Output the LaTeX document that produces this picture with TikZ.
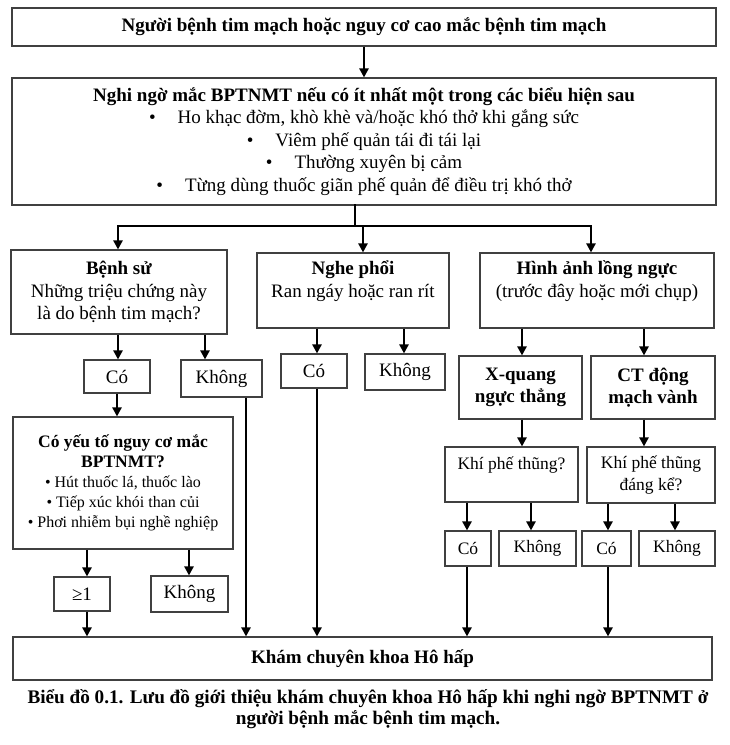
\documentclass[tikz,border=0pt]{standalone}
\usepackage{fontspec}
\setmainfont{Liberation Serif}
\usetikzlibrary{arrows.meta}
\newcommand\szA{\fontsize{19}{22.5}\selectfont}
\newcommand\szB{\fontsize{17.5}{22}\selectfont}
\newcommand\szC{\fontsize{16}{20}\selectfont}
\newcommand\szT{\fontsize{17.5}{20}\selectfont\bfseries}
\begin{document}
\begin{tikzpicture}[x=1pt,y=-1pt,
  box/.style={draw=black!75, line width=1.1pt, inner sep=0pt, align=center, font=\szA},
  boxs/.style={box, font=\szB},
  conn/.style={draw=black, line width=2.5pt, -{Triangle[length=9pt,width=9pt]}},
  busline/.style={draw=black, line width=2.5pt, line cap=rect},
  captxt/.style={inner sep=0pt, align=center, font=\fontsize{19.2}{21}\selectfont\bfseries}]
\useasboundingbox (0,0) rectangle (730,745);

% boxes
\node[box, minimum width=704pt, minimum height=38pt] (top) at (364,27)
  {\textbf{Người bệnh tim mạch hoặc nguy cơ cao mắc bệnh tim mạch}};
\node[box, minimum width=704pt, minimum height=127pt] (sus) at (364,141.5)
  {\textbf{Nghi ngờ mắc BPTNMT nếu có ít nhất một trong các biểu hiện sau}\\
   \textbullet\hspace{22pt}Ho khạc đờm, khò khè và/hoặc khó thở khi gắng sức\\
   \textbullet\hspace{22pt}Viêm phế quản tái đi tái lại\\
   \textbullet\hspace{22pt}Thường xuyên bị cảm\\
   \textbullet\hspace{22pt}Từng dùng thuốc giãn phế quản để điều trị khó thở};
\node[box, minimum width=216pt, minimum height=84pt] (bs) at (119,292)
  {\textbf{Bệnh sử}\\Những triệu chứng này\\là do bệnh tim mạch?};
\node[box, minimum width=192pt, minimum height=75pt] (np) at (353,290.5)
  {\textbf{Nghe phổi}\\Ran ngáy hoặc ran rít\\\mbox{}};
\node[box, minimum width=234pt, minimum height=75pt] (ha) at (597,290.5)
  {\textbf{Hình ảnh lồng ngực}\\(trước đây hoặc mới chụp)\\\mbox{}};
\node[box, minimum width=66pt, minimum height=33pt] (co1) at (117,376.5) {Có};
\node[box, minimum width=81pt, minimum height=37pt] (kh1) at (221.5,378.5) {Không};
\node[box, minimum width=66pt, minimum height=34pt] (co2) at (314,371) {Có};
\node[box, minimum width=80pt, minimum height=36pt] (kh2) at (405,372) {Không};
\node[box, minimum width=123pt, minimum height=63pt] (xq) at (520.5,387.5)
  {\textbf{X-quang}\\\textbf{ngực thẳng}};
\node[box, minimum width=124pt, minimum height=63pt] (ct) at (653,387.5)
  {\textbf{CT động}\\\textbf{mạch vành}};
\node[box, font=\szC, minimum width=220pt, minimum height=132pt] (rf) at (123,483)
  {\szT Có yếu tố nguy cơ mắc\\
   \szT BPTNMT?\\
   \textbullet{} Hút thuốc lá, thuốc lào\\
   \textbullet{} Tiếp xúc khói than củi\\
   \textbullet{} Phơi nhiễm bụi nghề nghiệp};
\node[box, minimum width=56pt, minimum height=34pt] (ge) at (82,594) {≥1};
\node[box, minimum width=77pt, minimum height=36pt] (kh3) at (189.5,594) {Không};
\node[boxs, minimum width=133pt, minimum height=55pt] (kpt) at (511.5,474.5)
  {Khí phế thũng?\\\mbox{}};
\node[boxs, minimum width=128pt, minimum height=56pt] (kpt2) at (651,475)
  {Khí phế thũng\\đáng kể?};
\node[boxs, minimum width=46pt, minimum height=35pt] (co4) at (468,548.5) {Có};
\node[boxs, minimum width=77pt, minimum height=35pt] (kh4) at (537.5,548.5) {Không};
\node[boxs, minimum width=49pt, minimum height=35pt] (co5) at (606.5,548.5) {Có};
\node[boxs, minimum width=76pt, minimum height=35pt] (kh5) at (677,548.5) {Không};
\node[box, minimum width=699pt, minimum height=43pt] (kham) at (362.5,658.5)
  {\textbf{Khám chuyên khoa Hô hấp}};
\node[captxt] (cap) at (368,709)
  {Biểu đồ 0.1. Lưu đồ giới thiệu khám chuyên khoa Hô hấp khi nghi ngờ BPTNMT ở\\
   người bệnh mắc bệnh tim mạch.};

% column coordinates
\coordinate (bj) at (355,226);
\coordinate (bl) at (118,226);
\coordinate (bm) at (363,226);
\coordinate (br) at (591,226);
\coordinate (x118) at (118,0);
\coordinate (x205) at (205,0);
\coordinate (x246) at (246,0);
\coordinate (x117) at (117,0);
\coordinate (x87) at (87,0);
\coordinate (x189) at (189,0);
\coordinate (x317) at (317,0);
\coordinate (x404) at (404,0);
\coordinate (x522) at (522,0);
\coordinate (x644) at (644,0);
\coordinate (x467) at (467,0);
\coordinate (x531) at (531,0);
\coordinate (x608) at (608,0);
\coordinate (x675) at (675,0);

% connectors
\draw[conn] (top) -- (sus);
\draw[busline] (sus.south -| bj) -- (bj);
\draw[busline] (bl) -- (br);
\draw[conn] (bl) -- (bl |- bs.north);
\draw[conn] (bm) -- (bm |- np.north);
\draw[conn] (br) -- (br |- ha.north);

\draw[conn] (bs.south -| x118) -- (co1.north -| x118);
\draw[conn] (bs.south -| x205) -- (kh1.north -| x205);
\draw[conn] (kh1.south -| x246) -- (kham.north -| x246);
\draw[conn] (co1.south -| x117) -- (rf.north -| x117);
\draw[conn] (rf.south -| x87) -- (ge.north -| x87);
\draw[conn] (rf.south -| x189) -- (kh3.north -| x189);
\draw[conn] (ge.south -| x87) -- (kham.north -| x87);

\draw[conn] (np.south -| x317) -- (co2.north -| x317);
\draw[conn] (np.south -| x404) -- (kh2.north -| x404);
\draw[conn] (co2.south -| x317) -- (kham.north -| x317);

\draw[conn] (ha.south -| x522) -- (xq.north -| x522);
\draw[conn] (ha.south -| x644) -- (ct.north -| x644);
\draw[conn] (xq.south -| x522) -- (kpt.north -| x522);
\draw[conn] (ct.south -| x644) -- (kpt2.north -| x644);
\draw[conn] (kpt.south -| x467) -- (co4.north -| x467);
\draw[conn] (kpt.south -| x531) -- (kh4.north -| x531);
\draw[conn] (kpt2.south -| x608) -- (co5.north -| x608);
\draw[conn] (kpt2.south -| x675) -- (kh5.north -| x675);
\draw[conn] (co4.south -| x467) -- (kham.north -| x467);
\draw[conn] (co5.south -| x608) -- (kham.north -| x608);
\end{tikzpicture}
\end{document}
